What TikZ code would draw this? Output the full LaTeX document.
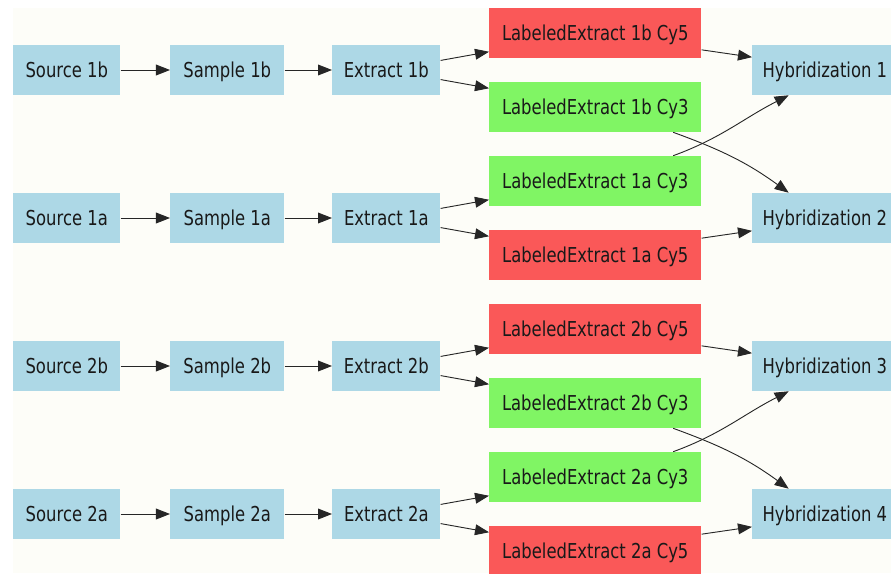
\documentclass[tikz,border=0pt]{standalone}
\usepackage{fontspec}
\setmainfont{DejaVu Sans}[FakeStretch=0.8]
\usetikzlibrary{arrows.meta}

\definecolor{nodeblue}{RGB}{173,216,230}
\definecolor{nodered}{RGB}{250,88,88}
\definecolor{nodegreen}{RGB}{128,245,100}
\definecolor{canvas}{RGB}{253,253,248}

\begin{document}
\begin{tikzpicture}[x=0.025cm, y=0.025cm]
	\tikzstyle{box} = [
		rectangle, anchor=west, inner sep=0pt, minimum height=1.25cm,
		text height=11pt, text depth=0pt, text=black!90,
		font=\fontsize{14.6pt}{17pt}\selectfont
	]
	\tikzstyle{blue_box} = [
		box, fill=nodeblue
	]
	\tikzstyle{source} = [
		blue_box, minimum width=2.675cm
	]
	\tikzstyle{sample} = [
		blue_box, minimum width=2.85cm
	]
	\tikzstyle{extract} = [
		blue_box, minimum width=2.7cm
	]
	\tikzstyle{hyb} = [
		blue_box, minimum width=3.625cm
	]
	\tikzstyle{cy5} = [
		box, fill=nodered, minimum width=5.3cm
	]
	\tikzstyle{cy3} = [
		box, fill=nodegreen, minimum width=5.3cm
	]
	\tikzstyle{conn} = [
		-{Triangle[length=3.5mm, width=2.7mm]}, line width=0.65pt, draw=black!85
	]

	% Background
	\useasboundingbox (0,0) rectangle (891,-573);
	\fill[white] (0,0) rectangle (891,-573);
	\fill[canvas] (13,-8) rectangle (891,-573);
	\clip (0,0) rectangle (891,-573);

	% Group 1
	\node (Source1b)  [source]  at (13,-70)  {Source 1b};
	\node (Sample1b)  [sample]  at (170,-70) {Sample 1b};
	\node (Extract1b) [extract] at (332,-70) {Extract 1b};
	\node (Source1a)  [source]  at (13,-218)  {Source 1a};
	\node (Sample1a)  [sample]  at (170,-218) {Sample 1a};
	\node (Extract1a) [extract] at (332,-218) {Extract 1a};

	\node (LE1b_Cy5) [cy5] at (489,-33)  {LabeledExtract 1b Cy5};
	\node (LE1b_Cy3) [cy3] at (489,-107) {LabeledExtract 1b Cy3};
	\node (LE1a_Cy3) [cy3] at (489,-181) {LabeledExtract 1a Cy3};
	\node (LE1a_Cy5) [cy5] at (489,-255) {LabeledExtract 1a Cy5};

	\node (Hyb1) [hyb] at (752,-70)  {Hybridization 1};
	\node (Hyb2) [hyb] at (752,-218) {Hybridization 2};

	% Group 2
	\node (Source2b)  [source]  at (13,-366)  {Source 2b};
	\node (Sample2b)  [sample]  at (170,-366) {Sample 2b};
	\node (Extract2b) [extract] at (332,-366) {Extract 2b};
	\node (Source2a)  [source]  at (13,-514)  {Source 2a};
	\node (Sample2a)  [sample]  at (170,-514) {Sample 2a};
	\node (Extract2a) [extract] at (332,-514) {Extract 2a};

	\node (LE2b_Cy5) [cy5] at (489,-329) {LabeledExtract 2b Cy5};
	\node (LE2b_Cy3) [cy3] at (489,-403) {LabeledExtract 2b Cy3};
	\node (LE2a_Cy3) [cy3] at (489,-477) {LabeledExtract 2a Cy3};
	\node (LE2a_Cy5) [cy5] at (489,-551) {LabeledExtract 2a Cy5};

	\node (Hyb3) [hyb] at (752,-366) {Hybridization 3};
	\node (Hyb4) [hyb] at (752,-514) {Hybridization 4};

	% Source -> Sample -> Extract
	\draw[conn] (Source1b) -- (Sample1b);
	\draw[conn] (Sample1b) -- (Extract1b);
	\draw[conn] (Source1a) -- (Sample1a);
	\draw[conn] (Sample1a) -- (Extract1a);
	\draw[conn] (Source2b) -- (Sample2b);
	\draw[conn] (Sample2b) -- (Extract2b);
	\draw[conn] (Source2a) -- (Sample2a);
	\draw[conn] (Sample2a) -- (Extract2a);

	% Extract -> LabeledExtract
	\draw[conn] (Extract1b.10)  -- (LE1b_Cy5.190);
	\draw[conn] (Extract1b.-10) -- (LE1b_Cy3.170);
	\draw[conn] (Extract1a.10)  -- (LE1a_Cy3.190);
	\draw[conn] (Extract1a.-10) -- (LE1a_Cy5.170);
	\draw[conn] (Extract2b.10)  -- (LE2b_Cy5.190);
	\draw[conn] (Extract2b.-10) -- (LE2b_Cy3.170);
	\draw[conn] (Extract2a.10)  -- (LE2a_Cy3.190);
	\draw[conn] (Extract2a.-10) -- (LE2a_Cy5.170);

	% LabeledExtract -> Hybridization
	\draw[conn] (LE1b_Cy5.-9) -- (Hyb1.170);
	\draw[conn] (LE1b_Cy3.-18) to[out=-20, in=144] (Hyb2.145);
	\draw[conn] (LE1a_Cy3.18) to[out=20, in=-153] (Hyb1.215);
	\draw[conn] (LE1a_Cy5.9) -- (Hyb2.190);
	\draw[conn] (LE2b_Cy5.-9) -- (Hyb3.170);
	\draw[conn] (LE2b_Cy3.-18) to[out=-20, in=144] (Hyb4.145);
	\draw[conn] (LE2a_Cy3.18) to[out=20, in=-153] (Hyb3.215);
	\draw[conn] (LE2a_Cy5.9) -- (Hyb4.190);
\end{tikzpicture}
\end{document}
